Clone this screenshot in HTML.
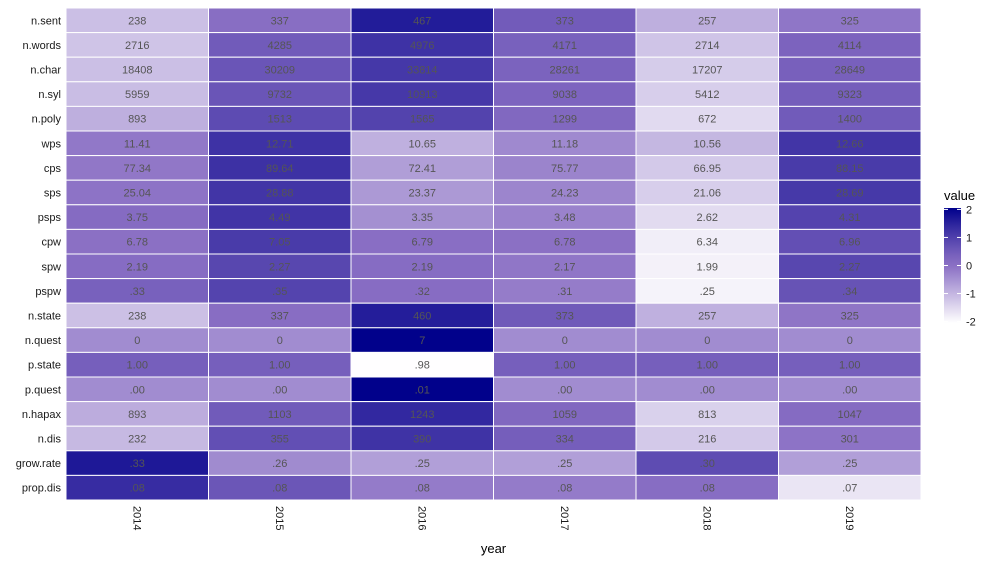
<!DOCTYPE html>
<html><head><meta charset="utf-8"><style>
body{margin:0;background:#fff;font-family:"Liberation Sans",sans-serif;}
svg text{font-family:"Liberation Sans",sans-serif;}
</style></head><body>
<svg id="chart" width="1000" height="563"></svg>
<script>
const rowNames=["n.sent","n.words","n.char","n.syl","n.poly","wps","cps","sps","psps","cpw","spw","pspw","n.state","n.quest","p.state","p.quest","n.hapax","n.dis","grow.rate","prop.dis"];
const years=["2014","2015","2016","2017","2018","2019"];
const rowDecimals=[0,0,0,0,0,2,2,2,2,2,2,2,0,0,2,2,0,0,2,2];
const v_nsent=[238,337,467,373,257,325];
const v_nwords=[2716,4285,4976,4171,2714,4114];
const v_nchar=[18408,30209,33814,28261,17207,28649];
const v_nsyl=[5959,9732,10913,9038,5412,9323];
const v_npoly=[893,1513,1565,1299,672,1400];
const v_wps=[11.41,12.71,10.65,11.18,10.56,12.66];
const v_cps=[77.34,89.64,72.41,75.77,66.95,88.15];
const v_sps=[25.04,28.88,23.37,24.23,21.06,28.69];
const v_psps=[3.75,4.49,3.35,3.48,2.62,4.31];
const v_cpw=[6.78,7.05,6.79,6.78,6.34,6.96];
const v_spw=[2.19,2.27,2.19,2.17,1.99,2.27];
const v_pspw=[0.33,0.35,0.32,0.31,0.25,0.34];
const v_nstate=[238,337,460,373,257,325];
const v_nquest=[0,0,7,0,0,0];
const v_pstate=[1.00,1.00,0.98,1.00,1.00,1.00];
const v_pquest=[0.00,0.00,0.01,0.00,0.00,0.00];
const v_nhapax=[893,1103,1243,1059,813,1047];
const v_ndis=[232,355,390,334,216,301];
const v_grow=[0.33,0.26,0.25,0.25,0.30,0.25];
const v_propdis=[0.084,0.081,0.078,0.078,0.079,0.072];
const allRows=[v_nsent,v_nwords,v_nchar,v_nsyl,v_npoly,v_wps,v_cps,v_sps,v_psps,v_cpw,v_spw,v_pspw,v_nstate,v_nquest,v_pstate,v_pquest,v_nhapax,v_ndis,v_grow,v_propdis];
const legendTicks=[2,1,0,-1,-2];

const NS="http://www.w3.org/2000/svg";
const svg=document.getElementById('chart');
function mk(t,a,p){const e=document.createElementNS(NS,t);for(const k in a)e.setAttribute(k,a[k]);(p||svg).appendChild(e);return e;}
const L=66,R=921,T=8,B=500;
const cw=(R-L)/years.length, rh=(B-T)/rowNames.length;
const xPos=i=>L+i*cw, yPos=j=>T+j*rh;
const low=[255,255,255],mid=[138,111,196],high=[0,0,139];
function col(z){z=Math.max(-2.05,Math.min(2.05,z));let a,b,t;
 if(z<0){a=low;b=mid;t=(z+2.05)/2.05;}else{a=mid;b=high;t=Math.pow(z/2.05,1.2);}
 return 'rgb('+a.map((c,i)=>Math.round(c+(b[i]-c)*t)).join(',')+')';}
function fmt(v,d){if(d===0)return String(Math.round(v));let s=v.toFixed(d);if(s.startsWith('0.'))s=s.slice(1);return s;}
const g=mk('g',{});


allRows.forEach((vals,j)=>{
 const m=vals.reduce((a,b)=>a+b,0)/vals.length;
 const sd=Math.sqrt(vals.reduce((a,b)=>a+(b-m)*(b-m),0)/(vals.length-1))||1;
 vals.forEach((v,i)=>{
  const z=(v-m)/sd;
  const r=mk('rect',{x:xPos(i),y:yPos(j),width:cw,height:rh,fill:col(z),stroke:'#fff','stroke-width':1},g);
  
  
  const t=mk('text',{x:xPos(i)+cw/2,y:yPos(j)+rh/2+4,'text-anchor':'middle','font-size':11,fill:'#555'},g);
  t.textContent=fmt(v,rowDecimals[j]);
  
  
 });
 const yl=mk('text',{x:61,y:yPos(j)+rh/2+4,'text-anchor':'end','font-size':11,fill:'#1a1a1a'});
 yl.textContent=rowNames[j];
 
 
});
years.forEach((y,i)=>{
 const cx=xPos(i)+cw/2;
 const t=mk('text',{x:0,y:0,transform:'translate('+(cx-4)+',506) rotate(90)','font-size':11,fill:'#1a1a1a'});
 t.textContent=y;
 
 
});
const xt=mk('text',{x:(L+R)/2,y:553,'text-anchor':'middle','font-size':13,fill:'#000'});
xt.textContent='year';


const lg=mk('g',{});


const lt=mk('text',{x:944,y:200,'font-size':13,fill:'#000'},lg);
lt.textContent='value';
const defs=mk('defs',{});
const gr=mk('linearGradient',{id:'lgrad',x1:0,y1:0,x2:0,y2:1},defs);
for(let k=0;k<=20;k++){const z=2.05-4.1*k/20;mk('stop',{offset:(k/20),'stop-color':col(z)},gr);}
const lb0=208,lb1=323,lz=z=>lb0+(2.05-z)/4.1*(lb1-lb0);
const bar=mk('rect',{x:944,y:lb0,width:17,height:lb1-lb0,fill:'url(#lgrad)'},lg);


legendTicks.forEach(z=>{
 const y=lz(z);
 mk('line',{x1:944,x2:948,y1:y,y2:y,stroke:'#fff'},lg);
 mk('line',{x1:957,x2:961,y1:y,y2:y,stroke:'#fff'},lg);
 const t=mk('text',{x:966,y:y+4,'font-size':11,fill:'#1a1a1a'},lg);
 t.textContent=String(z);
 
 
});
</script>
</body></html>
